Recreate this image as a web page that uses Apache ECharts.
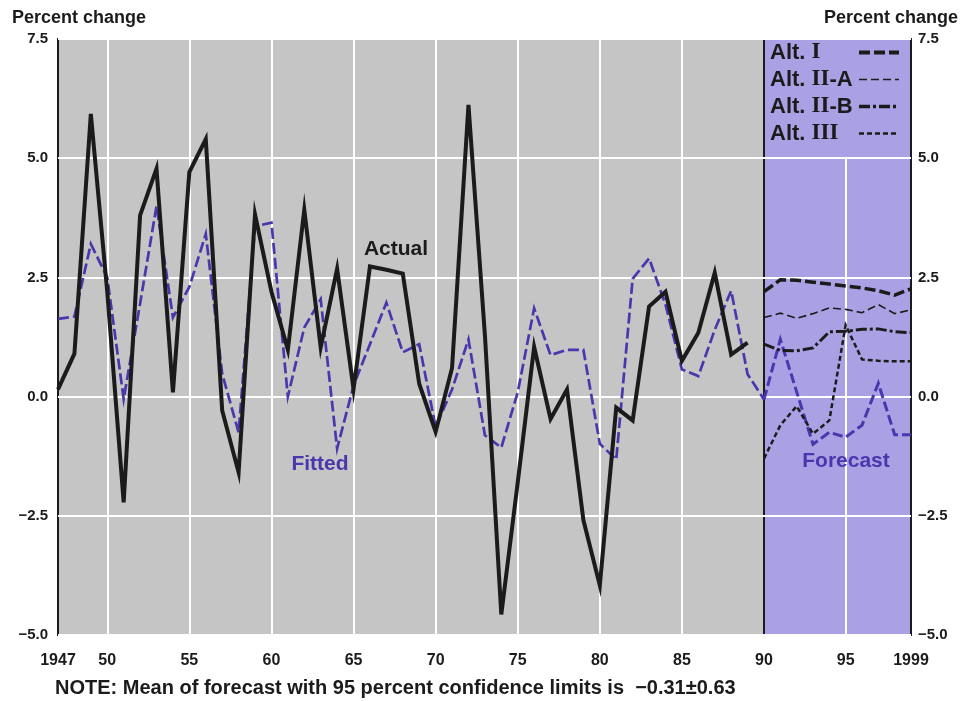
<!DOCTYPE html>
<html><head><meta charset="utf-8">
<script src="https://cdn.jsdelivr.net/npm/echarts@6/dist/echarts.min.js"></script>
<style>html,body{margin:0;padding:0;background:#fff}#c{width:961px;height:701px}</style>
</head><body><div id="c"></div>
<script>
// ---------- data ----------
const histYears = ['1947','1948','1949','1950','1951','1952','1953','1954','1955','1956',
  '1957','1958','1959','1960','1961','1962','1963','1964','1965','1966','1967','1968',
  '1969','1970','1971','1972','1973','1974','1975','1976','1977','1978','1979','1980',
  '1981','1982','1983','1984','1985','1986','1987','1988','1989','1990'];
const foreYears = ['1990','1991','1992','1993','1994','1995','1996','1997','1998','1999'];

const actual = [0.15, 0.9, 5.93, 2.2, -2.22, 3.8, 4.78, 0.09, 4.71, 5.4,
  -0.29, -1.59, 3.82, 2.2, 0.98, 3.92, 1.03, 2.68, 0.16, 2.73, 2.66, 2.58,
  0.27, -0.74, 0.6, 6.12, 1.3, -4.57, -1.8, 1.04, -0.47, 0.15, -2.59, -3.96,
  -0.23, -0.5, 1.89, 2.2, 0.75, 1.34, 2.6, 0.88, 1.13, null];
const fitted = [1.63, 1.68, 3.2, 2.5, -0.05, 1.95, 4.0, 1.66, 2.3, 3.41,
  0.48, -0.75, 3.57, 3.65, 0.0, 1.45, 2.04, -1.09, 0.23, 1.1, 1.97, 0.93,
  1.1, -0.64, 0.15, 1.2, -0.81, -1.07, 0.09, 1.85, 0.87, 0.98, 0.98, -0.99,
  -1.32, 2.47, 2.9, 1.93, 0.57, 0.43, 1.4, 2.22, 0.47, -0.06];
const forecast = [-0.06, 1.2, 0.1, -1.0, -0.75, -0.85, -0.6, 0.28, -0.8, -0.8];
const altI   = [2.2, 2.45, 2.44, 2.4, 2.36, 2.32, 2.28, 2.22, 2.13, 2.26];
const altIIA = [1.66, 1.75, 1.64, 1.74, 1.86, 1.83, 1.76, 1.93, 1.74, 1.82];
const altIIB = [1.1, 0.97, 0.96, 1.02, 1.36, 1.37, 1.41, 1.42, 1.36, 1.34];
const altIII = [-1.3, -0.6, -0.2, -0.78, -0.5, 1.5, 0.78, 0.75, 0.74, 0.74];

const labelYears = ['1947','1950','1955','1960','1965','1970','1975','1980','1985','1990','1995','1999'];
const labelTexts = ['1947','50','55','60','65','70','75','80','85','90','95','1999'];
const gridYearsHist = ['1950','1955','1960','1965','1970','1975','1980','1985'];
const gridYearsFore = ['1995'];
const altNames = ['Alt. I','Alt. II-A','Alt. II-B','Alt. III'];

// ---------- style ----------
const SANS = '"Liberation Sans", Arial, Helvetica, sans-serif';
const SERIF = '"Liberation Serif", "Times New Roman", serif';
const GRAY = '#c5c5c5';
const LAV = '#aaa1e4';
const PURPLE = '#4a36ad';
const INK = '#1b1b1b';
const LEG_S = 22, LEG_R = 23, LEG_TEXT_W = 84;

const yFmt = v => (v < 0 ? '\u2212' + Math.abs(v).toFixed(1) : v.toFixed(1));
const yAxisBase = {
  type: 'value', min: -5, max: 7.5, interval: 2.5,
  axisLine: {show: false}, axisTick: {show: false},
  splitLine: {show: true, lineStyle: {color: '#ffffff', width: 2}},
  axisLabel: {formatter: yFmt, color: INK, fontFamily: SANS, fontWeight: 'bold', fontSize: 15}
};
const xLabel = (exclude) => ({
  interval: (i, v) => labelYears.includes(v) && v !== exclude,
  formatter: v => labelTexts[labelYears.indexOf(v)] || '',
  color: INK, fontFamily: SANS, fontWeight: 'bold', fontSize: 16, margin: 18
});

const line = (name, data, xi, color, width, type) => ({
  name, type: 'line', data, xAxisIndex: xi, yAxisIndex: xi,
  symbol: 'none', connectNulls: false, z: 3, animation: false,
  lineStyle: {color, width, type, join: 'miter', miterLimit: 10, cap: 'butt'},
  itemStyle: {color}
});

// legend label pieces + spacer so that all line samples line up
const mctx = document.createElement('canvas').getContext('2d');
const tw = (t, size, fam) => { mctx.font = 'bold ' + size + 'px ' + fam; return mctx.measureText(t).width; };
const legendParts = altNames.map(n => {
  const m = n.match(/^Alt\. (I+)(.*)$/);
  return {name: n, a: 'Alt. ', r: m[1], b: m[2]};
});
const rich = {
  s: {fontFamily: SANS, fontWeight: 'bold', fontSize: LEG_S, color: INK},
  r: {fontFamily: SERIF, fontWeight: 'bold', fontSize: LEG_R, color: INK}
};
legendParts.forEach((p, i) => {
  const w = tw(p.a + p.b, LEG_S, SANS) + tw(p.r, LEG_R, SERIF);
  rich['p' + i] = {width: Math.max(1, LEG_TEXT_W - w), fontSize: LEG_S, fontFamily: SANS};
});
const legendWidths = [4, 1.6, 3.5, 2.6];

const option = {
  animation: false,
  backgroundColor: '#ffffff',
  grid: [
    {left: 58, width: 706, top: 39, bottom: 66, show: true, backgroundColor: GRAY,
     borderColor: INK, borderWidth: 2, outerBoundsMode: 'none', containLabel: false},
    {left: 764, right: 50, top: 39, bottom: 66, show: true, backgroundColor: LAV,
     borderColor: INK, borderWidth: 2, outerBoundsMode: 'none', containLabel: false}
  ],
  xAxis: [
    {type: 'category', gridIndex: 0, data: histYears, boundaryGap: false,
     axisLine: {show: false}, axisTick: {show: false}, axisLabel: xLabel(null),
     splitLine: {show: true, interval: (i, v) => gridYearsHist.includes(v),
                 lineStyle: {color: '#ffffff', width: 2}}},
    {type: 'category', gridIndex: 1, data: foreYears, boundaryGap: false,
     axisLine: {show: false}, axisTick: {show: false}, axisLabel: xLabel('1990'),
     splitLine: {show: true, interval: (i, v) => gridYearsFore.includes(v),
                 lineStyle: {color: '#ffffff', width: 2}}}
  ],
  yAxis: [
    Object.assign({}, yAxisBase, {gridIndex: 0, position: 'left',
      axisLabel: Object.assign({}, yAxisBase.axisLabel, {margin: 10})}),
    Object.assign({}, yAxisBase, {gridIndex: 1, position: 'right',
      axisLabel: Object.assign({}, yAxisBase.axisLabel, {margin: 7})})
  ],
  legend: {
    data: altNames.map((n, i) => ({name: n, lineStyle: {width: legendWidths[i]},
      itemStyle: {color: 'rgba(0,0,0,0)', opacity: 0, borderWidth: 0}})),
    orient: 'vertical', left: 765, top: 40,
    align: 'right', itemWidth: 40, itemHeight: 24, itemGap: 4,
    padding: [1, 6, 12, 5], backgroundColor: LAV, borderWidth: 0,
    selectedMode: false,
    itemStyle: {color: 'rgba(0,0,0,0)', opacity: 0, borderWidth: 0},
    formatter: name => {
      const i = altNames.indexOf(name), p = legendParts[i];
      return '{s|' + p.a + '}{r|' + p.r + '}' + (p.b ? '{s|' + p.b + '}' : '') + '{p' + i + '| }';
    },
    textStyle: {color: INK, rich}
  },
  graphic: [
    {type: 'text', x: 12, y: 18, style: {text: 'Percent change', font: 'bold 18px ' + SANS,
      fill: INK, align: 'left', verticalAlign: 'middle'}},
    {type: 'text', x: 958, y: 18, style: {text: 'Percent change', font: 'bold 18px ' + SANS,
      fill: INK, align: 'right', verticalAlign: 'middle'}},
    {type: 'text', x: 396, y: 249, z: 10, style: {text: 'Actual', font: 'bold 21px ' + SANS,
      fill: INK, align: 'center', verticalAlign: 'middle'}},
    {type: 'text', x: 320, y: 464, z: 10, style: {text: 'Fitted', font: 'bold 21px ' + SANS,
      fill: PURPLE, align: 'center', verticalAlign: 'middle'}},
    {type: 'text', x: 846, y: 461, z: 10, style: {text: 'Forecast', font: 'bold 21px ' + SANS,
      fill: PURPLE, align: 'center', verticalAlign: 'middle'}},
    {type: 'text', x: 55, y: 688, style: {
      text: 'NOTE: Mean of forecast with 95 percent confidence limits is  \u22120.31\u00b10.63',
      font: 'bold 20px ' + SANS, fill: INK, align: 'left', verticalAlign: 'middle'}}
  ],
  series: [
    line('Fitted', fitted, 0, PURPLE, 2.7, [11, 4]),
    line('Actual', actual, 0, INK, 4, 'solid'),
    line('Forecast', forecast, 1, PURPLE, 3, [10, 4]),
    line('Alt. I', altI, 1, INK, 3.5, [11, 4]),
    line('Alt. II-A', altIIA, 1, INK, 1.6, [8, 4]),
    line('Alt. II-B', altIIB, 1, INK, 3, [11, 3, 3, 3]),
    line('Alt. III', altIII, 1, INK, 2.5, [5, 3])
  ]
};
echarts.init(document.getElementById('c'), null, {renderer: 'canvas'}).setOption(option);
</script></body></html>
